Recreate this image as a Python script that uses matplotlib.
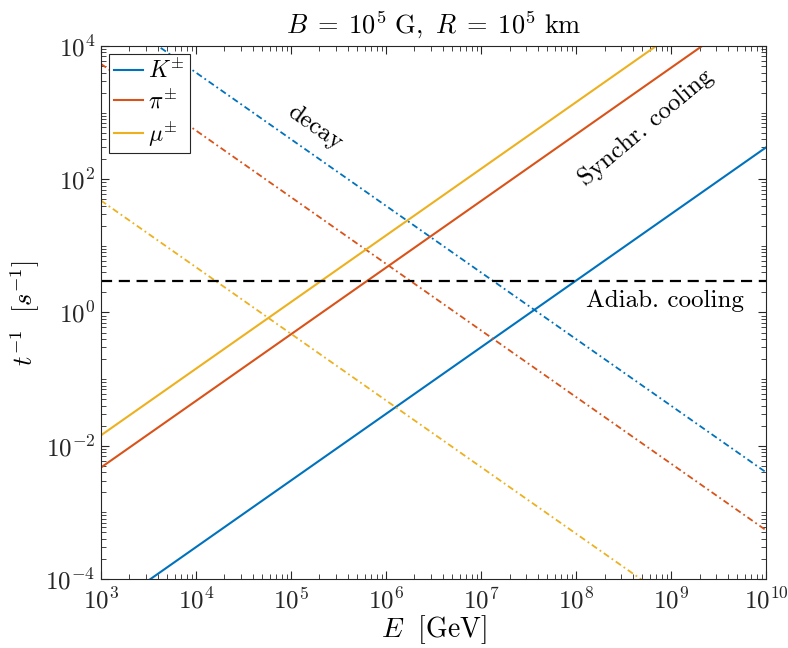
import matplotlib
matplotlib.use("Agg")
import matplotlib.pyplot as plt
from matplotlib.ticker import FuncFormatter, LogLocator, FixedLocator, NullFormatter
import numpy as np

plt.rcParams['mathtext.fontset'] = 'cm'
plt.rcParams['font.family'] = 'serif'
plt.rcParams['font.serif'] = ['cmr10', 'DejaVu Serif']
plt.rcParams['axes.formatter.use_mathtext'] = True

# Energy range (GeV), lines are straight in log-log so endpoints are enough
energy = [1e3, 1e10]

# Synchrotron cooling rates (s^-1) at the two energies
synch_kaon = [3.0e-5, 3.0e2]
synch_pion = [4.7e-3, 4.7e4]
synch_muon = [1.43e-2, 1.43e5]

# Decay rates (s^-1) at the two energies
decay_kaon = [4.0e4, 4.0e-3]
decay_pion = [5.4e3, 5.4e-4]
decay_muon = [48.0, 4.8e-6]

# Adiabatic cooling rate c/R (s^-1)
adiab_rate = [3.0, 3.0]

labels = [r'$K^{\pm}$', r'$\pi^{\pm}$', r'$\mu^{\pm}$']
colors = ['#0072BD', '#D95319', '#EDB120']

fig = plt.figure(figsize=(7.88, 6.48), dpi=100)
ax = fig.add_axes([0.128, 0.1065, 0.844, 0.8225])

for s, d, c, lab in zip([synch_kaon, synch_pion, synch_muon],
                        [decay_kaon, decay_pion, decay_muon], colors, labels):
    ax.loglog(energy, s, color=c, lw=1.5, label=lab)
    ax.loglog(energy, d, color=c, lw=1.3, linestyle=(0, (3.5, 1.8, 1, 1.8)))

ax.loglog(energy, adiab_rate, color='black', lw=1.6, linestyle=(0, (5, 3)))

ax.set_xlim(1e3, 1e10)
ax.set_ylim(1e-4, 1e4)

ax.xaxis.set_major_locator(LogLocator(base=10, numticks=20))
ax.yaxis.set_major_locator(FixedLocator([1e-4, 1e-2, 1, 1e2, 1e4]))
ax.xaxis.set_minor_locator(LogLocator(base=10, subs=np.arange(2, 10), numticks=20))
ax.yaxis.set_minor_locator(LogLocator(base=10, subs=np.arange(1, 10), numticks=20))
ax.xaxis.set_minor_formatter(NullFormatter())
ax.yaxis.set_minor_formatter(NullFormatter())
fmt = FuncFormatter(lambda v, p: r'$10^{%d}$' % int(round(np.log10(v))))
ax.xaxis.set_major_formatter(fmt)
ax.yaxis.set_major_formatter(fmt)

ax.tick_params(which='both', direction='in', top=True, right=True,
               color='#262626', labelcolor='#262626', labelsize=18)
ax.tick_params(which='major', length=6, width=0.8)
ax.tick_params(which='minor', length=3.5, width=0.6)
ax.tick_params(axis='x', pad=6)
ax.tick_params(axis='y', pad=4)
for sp in ax.spines.values():
    sp.set_color('#262626')
    sp.set_linewidth(0.8)

ax.set_title(r'$B\;=\;10^5\ \mathrm{G},\ R\;=\;10^5\ \mathrm{km}$', fontsize=19, pad=9)
ax.set_xlabel(r'$E\ \ [\mathrm{GeV}]$', fontsize=20, labelpad=0)
ax.set_ylabel(r'$t^{-1}\ \ [s^{-1}]$', fontsize=19, labelpad=2)

ax.text(1.8e5, 6.0e2, 'decay', rotation=-35, fontsize=18, ha='center', va='center',
        rotation_mode='anchor')
ax.text(5.4e8, 6.0e2, 'Synchr. cooling', rotation=40, fontsize=18,
        ha='center', va='center', rotation_mode='anchor')
ax.text(8.7e8, 1.5, 'Adiab. cooling', fontsize=18, ha='center', va='center')

leg = ax.legend(loc='upper left', fontsize=17, handlelength=1.25, handletextpad=0.2,
                borderpad=0.2, labelspacing=0.25, fancybox=False, framealpha=1,
                edgecolor='#262626', borderaxespad=0.35)
leg.get_frame().set_linewidth(0.8)

fig.savefig('out.png', dpi=100)
